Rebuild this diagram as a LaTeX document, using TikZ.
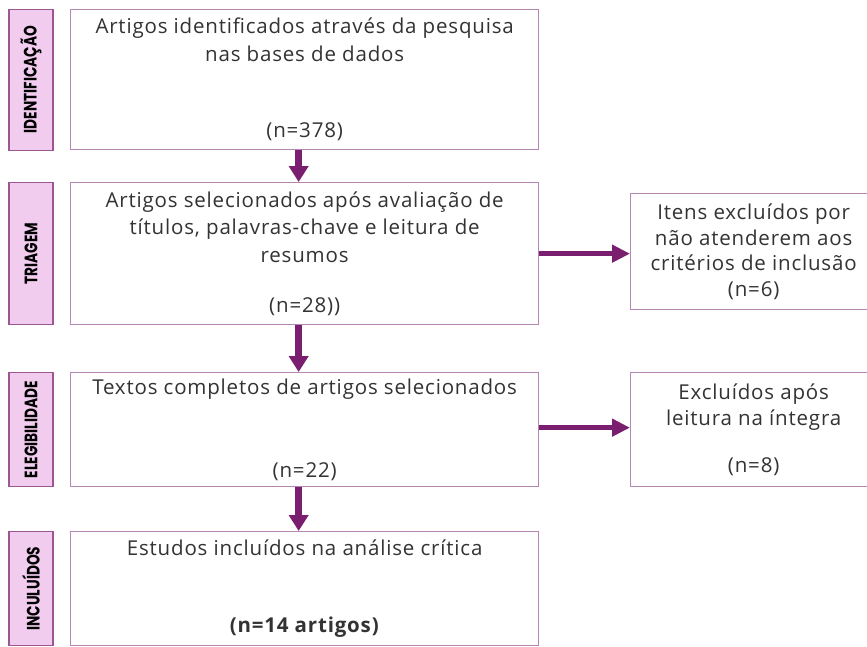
\documentclass[tikz,border=0pt]{standalone}
\usepackage{fontspec}
\usepackage{graphicx}
\setmainfont{Open Sans}[LetterSpace=4]
\newfontfamily\rotulo{Poppins}
\usetikzlibrary{arrows.meta,positioning}

\definecolor{roxo}{HTML}{7A1F6F}
\definecolor{lilas}{HTML}{B585B3}
\definecolor{rosa}{HTML}{F2CCEF}

\newcommand{\estreito}[1]{\scalebox{0.76}[1]{#1}}

\tikzset{
  etapa/.style={draw=roxo!75, fill=rosa, line width=1.3pt, rotate=90,
    minimum height=44pt, inner sep=0pt,
    font=\rotulo\bfseries\fontsize{18}{20}\selectfont},
  caixa/.style={draw=lilas, line width=1.3pt, fill=white, align=center,
    inner sep=0pt, text=black!80,
    font=\fontsize{20.5}{27.5}\selectfont},
  seta/.style={roxo, line width=7pt, -{Triangle[width=19pt,length=16pt]}},
  setalat/.style={roxo, line width=5pt, -{Triangle[width=17pt,length=18pt]}},
}

\begin{document}
\begin{tikzpicture}[x=1pt,y=-1pt]
\useasboundingbox (0,0) rectangle (867,646);

% caixas principais
\node[caixa, minimum width=468pt, minimum height=140pt, anchor=north west] (ident) at (70,9)
  {Artigos identificados através da pesquisa\\nas bases de dados\\[49pt](n=378)};
\node[caixa, minimum width=468pt, minimum height=142pt, anchor=north west] (triag) at (70,182)
  {Artigos selecionados após avaliação de\\títulos, palavras-chave e leitura de\\resumos\\[23pt](n=28))};
\node[caixa, minimum width=468pt, minimum height=114pt, anchor=north west] (eleg) at (70,372)
  {Textos completos de artigos selecionados\\[55pt](n=22)};
\node[caixa, minimum width=468pt, minimum height=114pt, anchor=north west] (incl) at (70,531)
  {Estudos incluídos na análise crítica\\[49pt]\textbf{(n=14 artigos)}};

% caixas de exclusao
\node[caixa, font=\fontsize{20.5}{25.5}\selectfont, minimum width=246pt, minimum height=116pt,
  anchor=north west] (excl1) at (630,193)
  {Itens excluídos por\\não atenderem aos\\critérios de inclusão\\(n=6)};
\node[caixa, font=\fontsize{20.5}{26}\selectfont, minimum width=246pt, minimum height=114pt,
  anchor=north west] (excl2) at (630,372)
  {Excluídos após\\leitura na íntegra\\[21pt](n=8)};

% etapas
\node[etapa, minimum width=141pt] (lbl1) at (31,0 |- ident.west) {\estreito{IDENTIFICAÇÃO}};
\node[etapa, minimum width=142pt] (lbl2) at (31,0 |- triag.west) {\estreito{TRIAGEM}};
\node[etapa, minimum width=114pt] (lbl3) at (31,0 |- eleg.west) {\estreito{ELEGIBILIDADE}};
\node[etapa, minimum width=114pt] (lbl4) at (31,0 |- incl.west) {\estreito{INCULUÍDOS}};

% setas
\draw[seta] ([xshift=-6pt]ident.south) -- ([xshift=-6pt]triag.north);
\draw[seta] ([xshift=-6pt]triag.south) -- ([xshift=-6pt]eleg.north);
\draw[seta] ([xshift=-6pt]eleg.south) -- ([xshift=-6pt]incl.north);
\draw[setalat] (triag.east) -- (triag.east -| excl1.west);
\draw[setalat] ([yshift=2pt]eleg.east) -- ([yshift=2pt]eleg.east -| excl2.west);
\end{tikzpicture}
\end{document}
